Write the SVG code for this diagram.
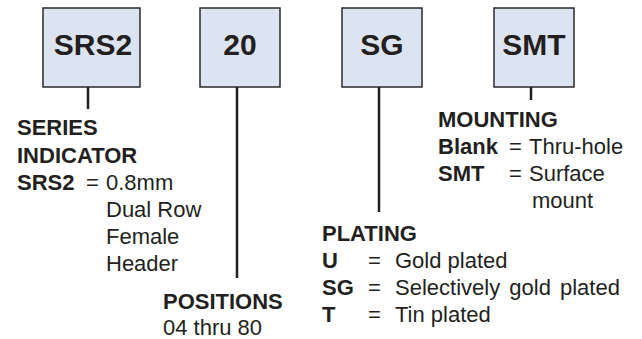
<svg xmlns="http://www.w3.org/2000/svg" width="642" height="339" viewBox="0 0 642 339">
<style>
.box{fill:#dde4f1;stroke:#2a2a2a;stroke-width:1.5}
.bt{font-family:"Liberation Sans",Arial,sans-serif;font-weight:bold;font-size:30px;fill:#231f20;text-anchor:middle}
.b{font-family:"Liberation Sans",Arial,sans-serif;font-weight:bold;font-size:22px;fill:#231f20}
.r{font-family:"Liberation Sans",Arial,sans-serif;font-size:22px;fill:#231f20}
.ln{stroke:#231f20;stroke-width:2.5;fill:none}
</style>
<rect width="642" height="339" fill="#ffffff"/>
<g id="connectors">
<line class="ln" x1="88" y1="87" x2="88" y2="109"/>
<line class="ln" x1="237" y1="87" x2="237" y2="278"/>
<line class="ln" x1="379" y1="87" x2="379" y2="212"/>
<line class="ln" x1="531" y1="87" x2="531" y2="100"/>
</g>
<g id="node-srs2">
<rect class="box" x="43" y="8" width="97" height="79"/>
<text class="bt" x="93" y="55">SRS2</text>
</g>
<g id="node-20">
<rect class="box" x="200" y="8" width="80" height="79"/>
<text class="bt" x="240" y="55">20</text>
</g>
<g id="node-sg">
<rect class="box" x="342" y="8" width="80" height="79"/>
<text class="bt" x="382" y="55">SG</text>
</g>
<g id="node-smt">
<rect class="box" x="494" y="8" width="80" height="79"/>
<text class="bt" x="534" y="55">SMT</text>
</g>
<g id="label-series">
<text class="b" x="17" y="135">SERIES</text>
<text class="b" x="17" y="163">INDICATOR</text>
<text class="b" x="17" y="190">SRS2</text>
<text class="r" x="86" y="190">=</text>
<text class="r" x="106" y="190">0.8mm</text>
<text class="r" x="106" y="217">Dual Row</text>
<text class="r" x="106" y="244">Female</text>
<text class="r" x="106" y="271">Header</text>
</g>
<g id="label-positions">
<text class="b" x="163" y="309">POSITIONS</text>
<text class="r" x="163" y="335">04 thru 80</text>
</g>
<g id="label-plating">
<text class="b" x="322" y="241">PLATING</text>
<text class="b" x="322" y="268">U</text>
<text class="r" x="368" y="268">=</text>
<text class="r" x="395" y="268">Gold plated</text>
<text class="b" x="322" y="295">SG</text>
<text class="r" x="368" y="295">=</text>
<text class="r" x="395" y="295" word-spacing="3">Selectively gold plated</text>
<text class="b" x="322" y="322">T</text>
<text class="r" x="368" y="322">=</text>
<text class="r" x="395" y="322">Tin plated</text>
</g>
<g id="label-mounting">
<text class="b" x="438" y="127">MOUNTING</text>
<text class="b" x="438" y="154">Blank</text>
<text class="r" x="509" y="154">=</text>
<text class="r" x="529" y="154">Thru-hole</text>
<text class="b" x="438" y="181">SMT</text>
<text class="r" x="509" y="181">=</text>
<text class="r" x="529" y="181">Surface</text>
<text class="r" x="532" y="208">mount</text>
</g>
</svg>
